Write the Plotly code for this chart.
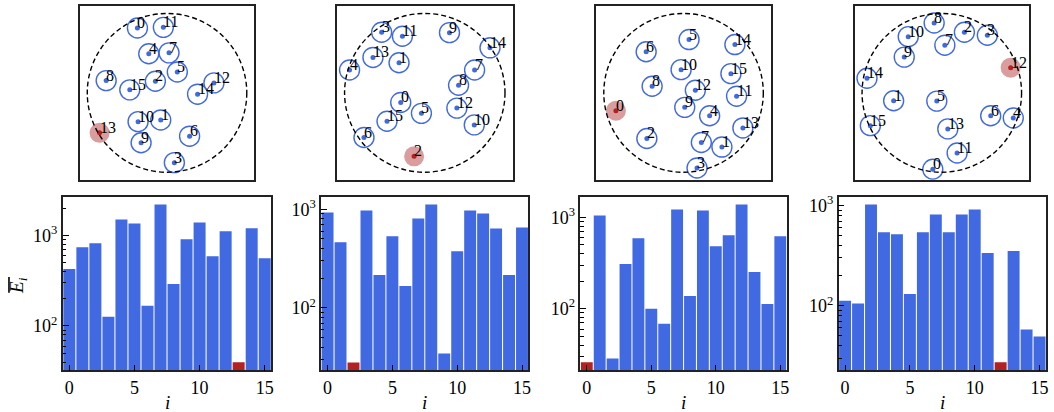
import plotly.graph_objects as go

W, H = 1054, 412
FONT = "Liberation Serif"
BLUE = "#4169E1"
RED = "#B22222"

# ---------------- data ----------------
ids = list(range(16))

# particle positions (units of confining-circle radius), panels A-D
pxA = [-0.371, -0.079, -0.146, 0.092, -0.229, 0.129, 0.283, 0.025, -0.763, -0.325, -0.363, -0.046, 0.588, -0.846, 0.383, -0.467]
pyA = [0.817, -0.342, 0.146, -0.879, 0.492, 0.263, -0.546, 0.504, 0.154, -0.629, -0.363, 0.825, 0.125, -0.504, -0.017, 0.038]

pxB = [-0.300, -0.321, -0.133, -0.538, -0.938, -0.042, -0.758, 0.621, 0.421, 0.308, 0.617, -0.279, 0.400, -0.646, 0.813, -0.471]
pyB = [-0.121, 0.379, -0.800, 0.763, 0.288, -0.258, -0.563, 0.288, 0.096, 0.758, -0.404, 0.713, -0.192, 0.446, 0.567, -0.358]

pxC = [-0.848, 0.481, -0.460, 0.169, 0.327, 0.069, -0.469, 0.223, -0.394, 0.015, -0.031, 0.665, 0.148, 0.744, 0.644, 0.594]
pyC = [-0.225, -0.683, -0.575, -0.946, -0.288, 0.671, 0.517, -0.625, 0.083, -0.183, 0.292, -0.042, 0.033, -0.442, 0.608, 0.242]

pxD = [-0.113, -0.604, 0.283, 0.571, 0.896, -0.063, 0.613, 0.038, -0.096, -0.471, -0.421, 0.192, 0.863, 0.075, -0.938, -0.896]
pyD = [-0.963, -0.100, 0.763, 0.725, -0.317, -0.104, -0.288, 0.600, 0.879, 0.450, 0.708, -0.758, 0.317, -0.454, 0.183, -0.413]

red_idx = [13, 2, 0, 12]

# mean energies E_i per particle, panels A-D
eA = [425, 739, 816, 126, 1497, 1353, 167, 2184, 291, 904, 1388, 589, 1106, 39.7, 1193, 560]
eB = [925, 461, 27.9, 970, 215, 531, 166, 805, 1114, 34.4, 375, 970, 904, 638, 215, 653]
eC = [25.9, 1051, 28.6, 308, 591, 100, 68.7, 1222, 138, 1191, 484, 637, 1385, 252, 113, 621]
eD = [112, 105, 1023, 541, 516, 131, 541, 815, 541, 815, 913, 335, 27.3, 351, 57.8, 49.3]

ylog_ranges = [[1.511, 3.427], [1.366, 3.128], [1.326, 3.228], [1.356, 3.089]]
x_ticks = [0, 5, 10, 15]
y_major = [100, 1000]
y_major_text = ["10<sup>2</sup>", "10<sup>3</sup>"]
y_minor = [m * 10 ** k for k in (1, 2, 3) for m in range(2, 10)]

panels_x = [pxA, pxB, pxC, pxD]
panels_y = [pyA, pyB, pyC, pyD]
energies = [eA, eB, eC, eD]

# ---------------- layout geometry (pixels) ----------------
top_x = [(80, 255), (338, 514), (598, 773), (857, 1032)]
top_y = (3, 178)
bot_x = [(63, 272), (322, 530), (582, 789), (841, 1049)]
bot_y = (195, 370)

def fx(p):
    return p / W

def fy(p):
    return 1 - p / H

fig = go.Figure()
layout = dict(
    width=W, height=H, margin=dict(l=0, r=0, t=0, b=0),
    paper_bgcolor="white", plot_bgcolor="white",
    showlegend=False, font=dict(family=FONT, size=18, color="black"),
    bargap=0.08,
)
shapes = []
annotations = []

for k in range(4):
    n = k + 1
    xa, ya = f"x{n}", f"y{n}"
    r = red_idx[k]
    xs, ys = panels_x[k], panels_y[k]
    blue_ids = [i for i in ids if i != r]
    # blue particles: ring + dot
    fig.add_trace(go.Scatter(
        x=[xs[i] for i in blue_ids], y=[ys[i] for i in blue_ids], mode="markers",
        marker=dict(symbol="circle-open", size=20, color=BLUE, line=dict(width=1.4, color=BLUE)),
        xaxis=xa, yaxis=ya, hoverinfo="skip"))
    fig.add_trace(go.Scatter(
        x=[xs[i] for i in blue_ids], y=[ys[i] for i in blue_ids], mode="markers",
        marker=dict(size=5, color=BLUE), xaxis=xa, yaxis=ya, hoverinfo="skip"))
    # red particle
    fig.add_trace(go.Scatter(
        x=[xs[r]], y=[ys[r]], mode="markers",
        marker=dict(size=20, color="rgba(180,60,60,0.5)", line=dict(width=0)),
        xaxis=xa, yaxis=ya, hoverinfo="skip"))
    fig.add_trace(go.Scatter(
        x=[xs[r]], y=[ys[r]], mode="markers",
        marker=dict(size=5, color=RED), xaxis=xa, yaxis=ya, hoverinfo="skip"))
    # labels
    for i in ids:
        annotations.append(dict(
            x=xs[i], y=ys[i], xref=xa, yref=ya, text=str(i), showarrow=False,
            xanchor="left", yanchor="bottom", xshift=-2, yshift=-5,
            font=dict(family=FONT, size=16, color="black")))
    # confining circle
    shapes.append(dict(type="circle", xref=xa, yref=ya, x0=-1, y0=-1, x1=1, y1=1,
                       line=dict(color="black", width=1.4, dash="5px,3px")))
    layout[f"xaxis{n}"] = dict(
        domain=[fx(top_x[k][0]), fx(top_x[k][1])], range=[-1.094, 1.094],
        showticklabels=False, ticks="", showgrid=False, zeroline=False,
        showline=True, mirror=True, linecolor="#222", linewidth=1.6, anchor=ya)
    layout[f"yaxis{n}"] = dict(
        domain=[fy(top_y[1]), fy(top_y[0])], range=[-1.094, 1.094],
        showticklabels=False, ticks="", showgrid=False, zeroline=False,
        showline=True, mirror=True, linecolor="#222", linewidth=1.6, anchor=xa)

    # ---- bar chart ----
    m = k + 5
    xb, yb = f"x{m}", f"y{m}"
    colors = [RED if i == r else BLUE for i in ids]
    fig.add_trace(go.Bar(x=ids, y=energies[k], marker=dict(color=colors, line=dict(width=0)),
                         xaxis=xb, yaxis=yb, hoverinfo="skip"))
    layout[f"xaxis{m}"] = dict(
        domain=[fx(bot_x[k][0]), fx(bot_x[k][1])], range=[-0.5, 15.5],
        tickmode="array", tickvals=x_ticks, ticks="inside", ticklen=6, tickwidth=1.3,
        tickcolor="black", showgrid=False, zeroline=False,
        showline=True, mirror=True, linecolor="#222", linewidth=1.6, anchor=yb,
        tickfont=dict(family=FONT, size=18))
    layout[f"yaxis{m}"] = dict(
        domain=[fy(bot_y[1]), fy(bot_y[0])], type="log", range=ylog_ranges[k],
        tickmode="array", tickvals=y_major, ticktext=y_major_text,
        ticks="inside", ticklen=6, tickwidth=1.3, tickcolor="black",
        minor=dict(tickmode="array", tickvals=y_minor, ticks="inside", ticklen=3.5,
                   tickwidth=1, tickcolor="black", showgrid=False),
        showgrid=False, zeroline=False,
        showline=True, mirror=True, linecolor="#222", linewidth=1.6, anchor=xb,
        tickfont=dict(family=FONT, size=18))
    # x label "i"
    annotations.append(dict(
        x=fx((bot_x[k][0] + bot_x[k][1]) / 2), y=fy(402), xref="paper", yref="paper",
        text="<i>i</i>", showarrow=False, xanchor="center", yanchor="middle",
        font=dict(family=FONT, size=19, color="black")))

# y label  (overline E_i)
annotations.append(dict(
    x=fx(18), y=fy(284), xref="paper", yref="paper", text="<i>E</i><sub><i>i</i></sub>",
    showarrow=False, textangle=-90, xanchor="center", yanchor="middle",
    font=dict(family=FONT, size=19, color="black")))
shapes.append(dict(type="line", xref="paper", yref="paper",
                   x0=fx(9), x1=fx(9), y0=fy(276), y1=fy(292),
                   line=dict(color="black", width=1.6)))

layout["shapes"] = shapes
layout["annotations"] = annotations
fig.update_layout(**layout)
fig.write_html("out.html")
